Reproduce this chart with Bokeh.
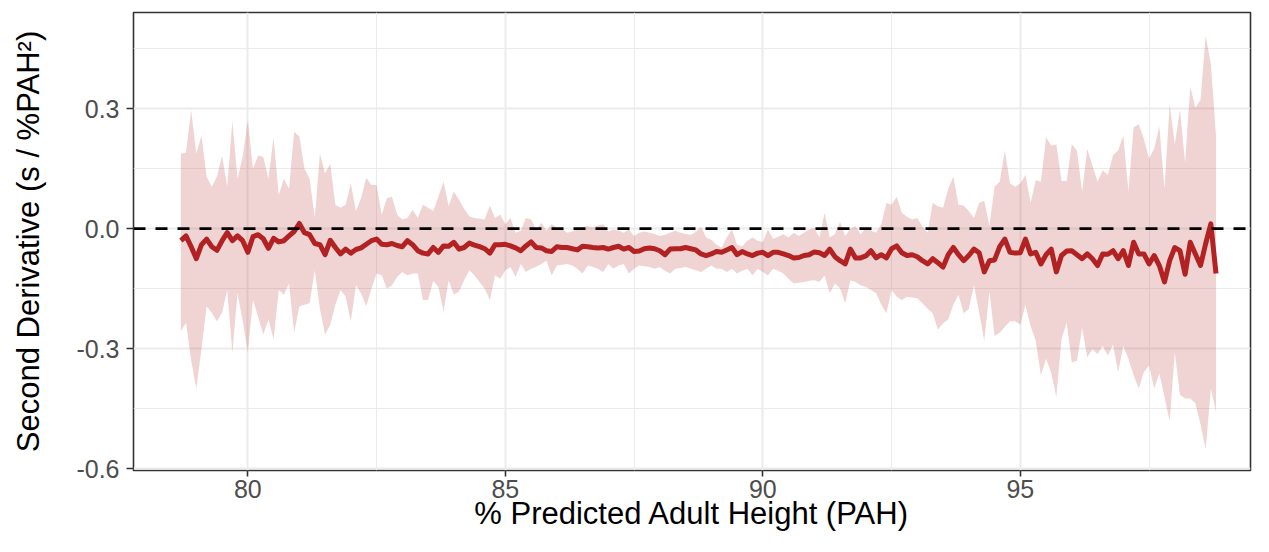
import numpy as np
from bokeh.plotting import figure
from bokeh.models import Range1d, FixedTicker, PrintfTickFormatter, Span, ColumnDataSource
from bokeh.embed import file_html
from bokeh.resources import INLINE

# % Predicted Adult Height grid (0.1 steps from 78.7 to 98.8)
x_start = 78.7
x_step = 0.1

estimate = [
    -0.030, -0.018, -0.045, -0.075, -0.040, -0.026, -0.045, -0.054, -0.030, -0.010,
    -0.030, -0.018, -0.030, -0.059, -0.020, -0.015, -0.025, -0.049, -0.024, -0.033,
    -0.030, -0.018, -0.007, 0.013, -0.010, -0.015, -0.037, -0.040, -0.065, -0.029,
    -0.047, -0.063, -0.051, -0.061, -0.052, -0.048, -0.039, -0.030, -0.026, -0.039,
    -0.040, -0.037, -0.042, -0.045, -0.030, -0.040, -0.055, -0.061, -0.063, -0.047,
    -0.059, -0.043, -0.044, -0.034, -0.051, -0.047, -0.036, -0.041, -0.045, -0.050,
    -0.061, -0.040, -0.040, -0.039, -0.043, -0.048, -0.055, -0.043, -0.033, -0.047,
    -0.048, -0.055, -0.057, -0.045, -0.047, -0.047, -0.050, -0.053, -0.044, -0.045,
    -0.047, -0.048, -0.047, -0.051, -0.047, -0.044, -0.051, -0.047, -0.057, -0.056,
    -0.050, -0.048, -0.050, -0.055, -0.065, -0.051, -0.050, -0.050, -0.047, -0.050,
    -0.053, -0.063, -0.067, -0.063, -0.057, -0.059, -0.053, -0.047, -0.065, -0.057,
    -0.063, -0.067, -0.061, -0.059, -0.067, -0.059, -0.059, -0.063, -0.067, -0.073,
    -0.072, -0.067, -0.065, -0.058, -0.060, -0.067, -0.051, -0.070, -0.080, -0.088,
    -0.051, -0.073, -0.073, -0.068, -0.055, -0.073, -0.065, -0.073, -0.050, -0.043,
    -0.060, -0.067, -0.065, -0.070, -0.080, -0.088, -0.075, -0.085, -0.096, -0.065,
    -0.047, -0.065, -0.080, -0.067, -0.051, -0.060, -0.108, -0.080, -0.078, -0.045,
    -0.026, -0.059, -0.061, -0.060, -0.026, -0.063, -0.059, -0.088, -0.065, -0.051,
    -0.108, -0.067, -0.056, -0.055, -0.065, -0.075, -0.063, -0.075, -0.092, -0.063,
    -0.064, -0.055, -0.075, -0.055, -0.092, -0.034, -0.063, -0.063, -0.088, -0.067,
    -0.092, -0.133, -0.080, -0.047, -0.055, -0.114, -0.034, -0.063, -0.092, -0.037,
    0.012, -0.112,
]

upper = [
    0.187, 0.190, 0.296, 0.187, 0.232, 0.130, 0.105, 0.130, 0.183, 0.105,
    0.269, 0.125, 0.180, 0.271, 0.150, 0.183, 0.179, 0.125, 0.228, 0.084,
    0.125, 0.100, 0.242, 0.230, 0.150, 0.125, 0.027, 0.187, 0.138, 0.162,
    0.060, 0.052, 0.060, 0.113, 0.044, 0.076, 0.127, 0.109, 0.109, 0.035,
    0.076, 0.080, 0.035, 0.023, 0.027, 0.047, 0.027, 0.060, 0.052, 0.044,
    0.080, 0.117, 0.056, 0.093, 0.072, 0.050, 0.031, 0.027, 0.025, 0.023,
    0.058, 0.027, 0.035, 0.011, 0.027, -0.010, -0.005, 0.027, 0.023, -0.002,
    0.015, -0.005, 0.011, 0.003, 0.000, -0.010, -0.007, -0.002, 0.003, 0.007,
    0.003, 0.008, 0.011, -0.007, -0.002, -0.005, -0.010, -0.002, -0.018, -0.010,
    -0.007, -0.010, -0.013, -0.018, -0.015, -0.010, -0.005, -0.010, -0.013, -0.015,
    -0.008, 0.005, -0.022, -0.028, -0.040, -0.047, -0.022, -0.002, -0.040, -0.044,
    -0.030, -0.022, -0.030, -0.033, -0.002, -0.026, -0.020, -0.014, -0.022, -0.010,
    -0.018, -0.010, -0.002, 0.002, -0.022, 0.039, -0.022, -0.014, 0.017, -0.018,
    0.000, 0.006, -0.014, 0.002, -0.005, -0.010, 0.011, 0.064, 0.060, 0.080,
    0.039, 0.030, 0.023, 0.027, 0.005, -0.010, 0.064, 0.056, 0.052, 0.100,
    0.130, 0.060, 0.058, 0.044, 0.027, 0.064, 0.070, 0.007, 0.105, 0.117,
    0.195, 0.113, 0.105, 0.113, 0.134, 0.064, 0.121, 0.117, 0.228, 0.208,
    0.210, 0.119, 0.119, 0.211, 0.195, 0.093, 0.199, 0.158, 0.117, 0.146,
    0.134, 0.183, 0.195, 0.232, 0.093, 0.253, 0.261, 0.224, 0.175, 0.200,
    0.256, 0.100, 0.310, 0.211, 0.297, 0.166, 0.355, 0.302, 0.322, 0.482,
    0.412, 0.232,
]

lower = [
    -0.256, -0.235, -0.330, -0.400, -0.300, -0.194, -0.210, -0.231, -0.210, -0.153,
    -0.309, -0.161, -0.230, -0.309, -0.178, -0.220, -0.264, -0.227, -0.276, -0.153,
    -0.165, -0.137, -0.260, -0.194, -0.190, -0.186, -0.104, -0.200, -0.264, -0.240,
    -0.190, -0.153, -0.170, -0.231, -0.141, -0.161, -0.194, -0.150, -0.112, -0.116,
    -0.150, -0.141, -0.120, -0.108, -0.116, -0.112, -0.112, -0.178, -0.178, -0.130,
    -0.145, -0.207, -0.129, -0.165, -0.157, -0.129, -0.104, -0.116, -0.133, -0.150,
    -0.178, -0.116, -0.125, -0.104, -0.096, -0.120, -0.088, -0.108, -0.100, -0.095,
    -0.088, -0.080, -0.116, -0.092, -0.090, -0.088, -0.092, -0.100, -0.112, -0.092,
    -0.096, -0.100, -0.108, -0.088, -0.100, -0.092, -0.088, -0.112, -0.100, -0.092,
    -0.094, -0.096, -0.100, -0.096, -0.105, -0.112, -0.100, -0.098, -0.096, -0.100,
    -0.104, -0.108, -0.100, -0.092, -0.100, -0.100, -0.108, -0.100, -0.112, -0.105,
    -0.100, -0.116, -0.100, -0.108, -0.116, -0.100, -0.105, -0.112, -0.125, -0.137,
    -0.135, -0.133, -0.130, -0.129, -0.133, -0.116, -0.161, -0.137, -0.149, -0.186,
    -0.129, -0.133, -0.141, -0.145, -0.153, -0.161, -0.190, -0.211, -0.153, -0.170,
    -0.178, -0.170, -0.172, -0.174, -0.186, -0.200, -0.211, -0.252, -0.236, -0.227,
    -0.190, -0.165, -0.211, -0.200, -0.141, -0.209, -0.280, -0.157, -0.268, -0.260,
    -0.245, -0.231, -0.231, -0.240, -0.190, -0.244, -0.280, -0.366, -0.325, -0.360,
    -0.420, -0.276, -0.235, -0.334, -0.330, -0.248, -0.321, -0.301, -0.313, -0.293,
    -0.317, -0.289, -0.358, -0.293, -0.325, -0.366, -0.399, -0.358, -0.342, -0.399,
    -0.362, -0.420, -0.481, -0.309, -0.415, -0.424, -0.424, -0.436, -0.489, -0.551,
    -0.399, -0.457,
]

x_major_ticks = [80, 85, 90, 95]
x_minor_ticks = [82.5, 87.5, 92.5, 97.5]
y_major_ticks = [-0.6, -0.3, 0.0, 0.3]
y_minor_ticks = [-0.45, -0.15, 0.15, 0.45]

x_title = "% Predicted Adult Height (PAH)"
y_title = "Second Derivative (s / %PAH\u00b2)"

pah = [round(x_start + x_step * i, 2) for i in range(len(estimate))]
src = ColumnDataSource(dict(x=pah, est=estimate, lo=lower, hi=upper))

FONT = "Liberation Sans"

p = figure(
    width=1253, height=536,
    output_backend="svg", toolbar_location=None,
    x_range=Range1d(77.78, 99.47), y_range=Range1d(-0.604, 0.540),
    min_border_left=133, min_border_right=3, min_border_top=12, min_border_bottom=66,
)
p.background_fill_color = "white"
p.border_fill_color = "white"
p.outline_line_color = "#333333"
p.outline_line_width = 1.6

p.xaxis.ticker = FixedTicker(ticks=x_major_ticks, minor_ticks=x_minor_ticks)
p.yaxis.ticker = FixedTicker(ticks=y_major_ticks, minor_ticks=y_minor_ticks)
p.yaxis.formatter = PrintfTickFormatter(format="%.1f")

for g in (p.xgrid, p.ygrid):
    g.grid_line_color = "#EBEBEB"
    g.grid_line_width = 2
    g.minor_grid_line_color = "#EBEBEB"
    g.minor_grid_line_width = 1

for ax in (p.xaxis, p.yaxis):
    ax.axis_line_color = None
    ax.major_tick_line_color = "#333333"
    ax.major_tick_line_width = 1.6
    ax.major_tick_out = 7
    ax.major_tick_in = 0
    ax.minor_tick_line_color = None
    ax.major_label_text_font = FONT
    ax.major_label_text_font_size = "25px"
    ax.major_label_text_color = "#4D4D4D"
    ax.axis_label_text_font = FONT
    ax.axis_label_text_font_size = "31px"
    ax.axis_label_text_font_style = "normal"
    ax.axis_label_text_color = "black"

p.xaxis.axis_label = x_title
p.yaxis.axis_label = y_title
p.xaxis.major_tick_out = 6
p.xaxis.major_label_standoff = 3
p.xaxis.axis_label_standoff = -5
p.yaxis.major_label_standoff = 7
p.yaxis.axis_label_standoff = 27

p.varea(x="x", y1="lo", y2="hi", source=src, fill_color="#B22222", fill_alpha=0.2)
p.add_layout(Span(location=0, dimension="width", line_color="black",
                  line_width=2.8, line_dash="12 10"))
p.line(x="x", y="est", source=src, line_color="#B22222", line_width=5,
       line_join="round")

open("out.html", "w").write(file_html(p, INLINE))
